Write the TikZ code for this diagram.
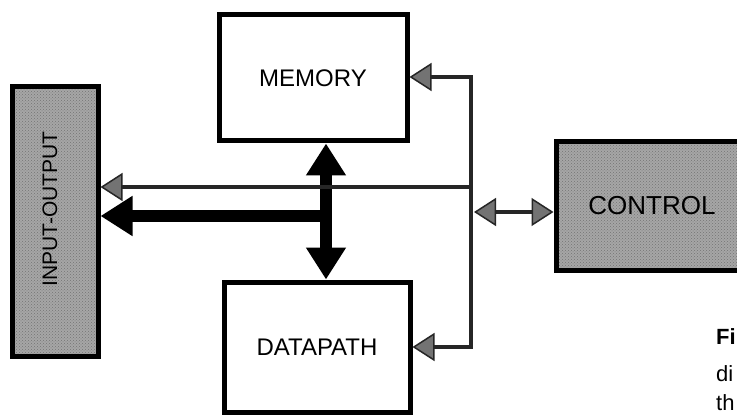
\documentclass[tikz,border=0pt]{standalone}
\usepackage{fontspec}
\setmainfont{Liberation Sans}
\usetikzlibrary{arrows.meta,patterns}

\tikzset{
  bigtip/.tip={Triangle[length=32pt,width=38pt]},
  smalltip/.tip={Triangle[length=22pt,width=28pt,fill=black!55,line width=1.5pt]},
}

\begin{document}
\begin{tikzpicture}[x=1pt,y=-1pt,
  unitbox/.style={draw=black, line width=5pt, inner sep=0pt},
  plainbox/.style={unitbox, fill=white, font=\fontsize{24}{24}\selectfont},
  shadedbox/.style={unitbox, preaction={fill=black!35}, pattern=crosshatch dots,
    pattern color=black!55, font=\fontsize{26}{26}\selectfont},
  bus/.style={line width=12pt, draw=black},
  wire/.style={line width=4.5pt, draw=black!85, line join=miter},
  captext/.style={anchor=base west, font=\fontsize{22}{22}\selectfont},
]
\path[use as bounding box, clip] (0,0) rectangle (737,417);
\fill[white] (0,0) rectangle (737,417);

% functional units
\node[plainbox, minimum width=188pt, minimum height=126pt] (memory) at (313,78) {MEMORY};
\node[plainbox, minimum width=186pt, minimum height=130pt] (datapath) at (317,347) {DATAPATH};
\node[shadedbox, minimum width=86pt, minimum height=269pt] (io) at (55,221.5) {};
\node[rotate=90, inner sep=0pt, font=\fontsize{21}{21}\selectfont] (iolabel) at (50,209) {INPUT-OUTPUT};
\node[shadedbox, minimum width=192pt, minimum height=128pt] (control) at (652,206) {CONTROL};

% data buses
\coordinate (busx) at (326,0);
\coordinate (iojoin) at (326,216);
\draw[bus, bigtip-bigtip] (memory.south -| busx) -- (datapath.north -| busx);
\draw[bus, -bigtip] (iojoin) -- (iojoin -| io.east);

% control lines
\coordinate (memtap) at (471,77);
\coordinate (dptap) at (471,347);
\coordinate (iotap) at (471,187);
\coordinate (ctltap) at (474,212);
\draw[wire, smalltip-smalltip] (memtap -| memory.east) -- (memtap) -- (dptap) -- (dptap -| datapath.east);
\draw[wire, -smalltip] (iotap) -- (iotap -| io.east);
\draw[wire, smalltip-smalltip] (ctltap) -- (ctltap -| control.west);

% caption
\node[captext, font=\bfseries\fontsize{22}{22}\selectfont, inner sep=0pt] (capa) at (716,344) {Fi};
\node[captext, inner sep=0pt] (capb) at (716,381) {di};
\node[captext, inner sep=0pt] (capc) at (716,410) {th};
\end{tikzpicture}
\end{document}
